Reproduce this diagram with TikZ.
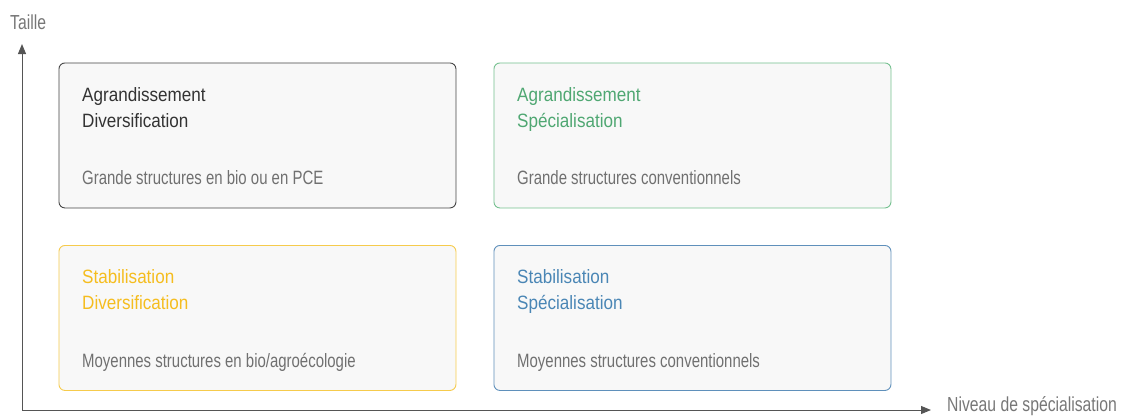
\documentclass[tikz,border=0pt]{standalone}
\usepackage{fontspec}
\setmainfont{Liberation Sans}
\newfontfamily\titlefont[FakeStretch=0.885]{Liberation Sans}
\newfontfamily\descfont[FakeStretch=0.775]{Liberation Sans}
\usetikzlibrary{arrows.meta}
\definecolor{boxfill}{HTML}{F8F8F8}
\definecolor{axiscol}{HTML}{555555}
\definecolor{desccol}{HTML}{707070}
\definecolor{labcol}{HTML}{777777}
\definecolor{darkb}{HTML}{444444}
\definecolor{darkt}{HTML}{333333}
\definecolor{greenb}{HTML}{74C08F}
\definecolor{greent}{HTML}{4FA772}
\definecolor{yellowb}{HTML}{F6CB4C}
\definecolor{yellowt}{HTML}{F5BD1F}
\definecolor{blueb}{HTML}{5F90BB}
\definecolor{bluet}{HTML}{4A86B5}
\begin{document}
\begin{tikzpicture}[x=1pt,y=-1pt,
  quad/.style={draw=#1, fill=boxfill, rounded corners=6pt, line width=0.9pt,
    minimum width=397pt, minimum height=145pt, inner sep=0pt, anchor=north west},
  ttl/.style={anchor=base west, inner sep=0pt, font=\titlefont\fontsize{19.3}{22}\selectfont, text=#1},
  dsc/.style={anchor=base west, inner sep=0pt, font=\descfont\fontsize{19.3}{22}\selectfont, text=desccol},
  axlab/.style={inner sep=0pt, font=\descfont\fontsize{20.3}{24}\selectfont, text=labcol},
  axis/.style={draw=axiscol, line width=1pt, -{Triangle[length=10pt,width=8pt]}}]
\useasboundingbox (0,0) rectangle (1127,416);
% axes
\coordinate (origin) at (22,410);
\coordinate (ytip) at (22,44);
\coordinate (xtip) at (931,410);
\draw[axis] (origin) -- (ytip);
\draw[axis] (origin) -- (xtip);
\node[axlab, anchor=base west] (taille) at (10,29) {Taille};
\node[axlab, anchor=base west] (niveau) at (947,411.5) {Niveau de spécialisation};
% boxes
\node[quad=darkb] (b1) at (58.5,62.5) {};
\node[quad=greenb] (b2) at (493.5,62.5) {};
\node[quad=yellowb] (b3) at (58.5,245) {};
\node[quad=blueb] (b4) at (493.5,245) {};
% texts box 1
\node[ttl=darkt] (t1a) at (82,101) {Agrandissement};
\node[ttl=darkt] (t1b) at (82,127) {Diversification};
\node[dsc] (d1) at (82,184.5) {Grande structures en bio ou en PCE};
% box 2
\node[ttl=greent] (t2a) at (517,101) {Agrandissement};
\node[ttl=greent] (t2b) at (517,127) {Spécialisation};
\node[dsc] (d2) at (517,184.5) {Grande structures conventionnels};
% box 3
\node[ttl=yellowt] (t3a) at (82,283.5) {Stabilisation};
\node[ttl=yellowt] (t3b) at (82,309) {Diversification};
\node[dsc] (d3) at (82,367) {Moyennes structures en bio/agroécologie};
% box 4
\node[ttl=bluet] (t4a) at (517,283.5) {Stabilisation};
\node[ttl=bluet] (t4b) at (517,309) {Spécialisation};
\node[dsc] (d4) at (517,367) {Moyennes structures conventionnels};
\end{tikzpicture}
\end{document}
